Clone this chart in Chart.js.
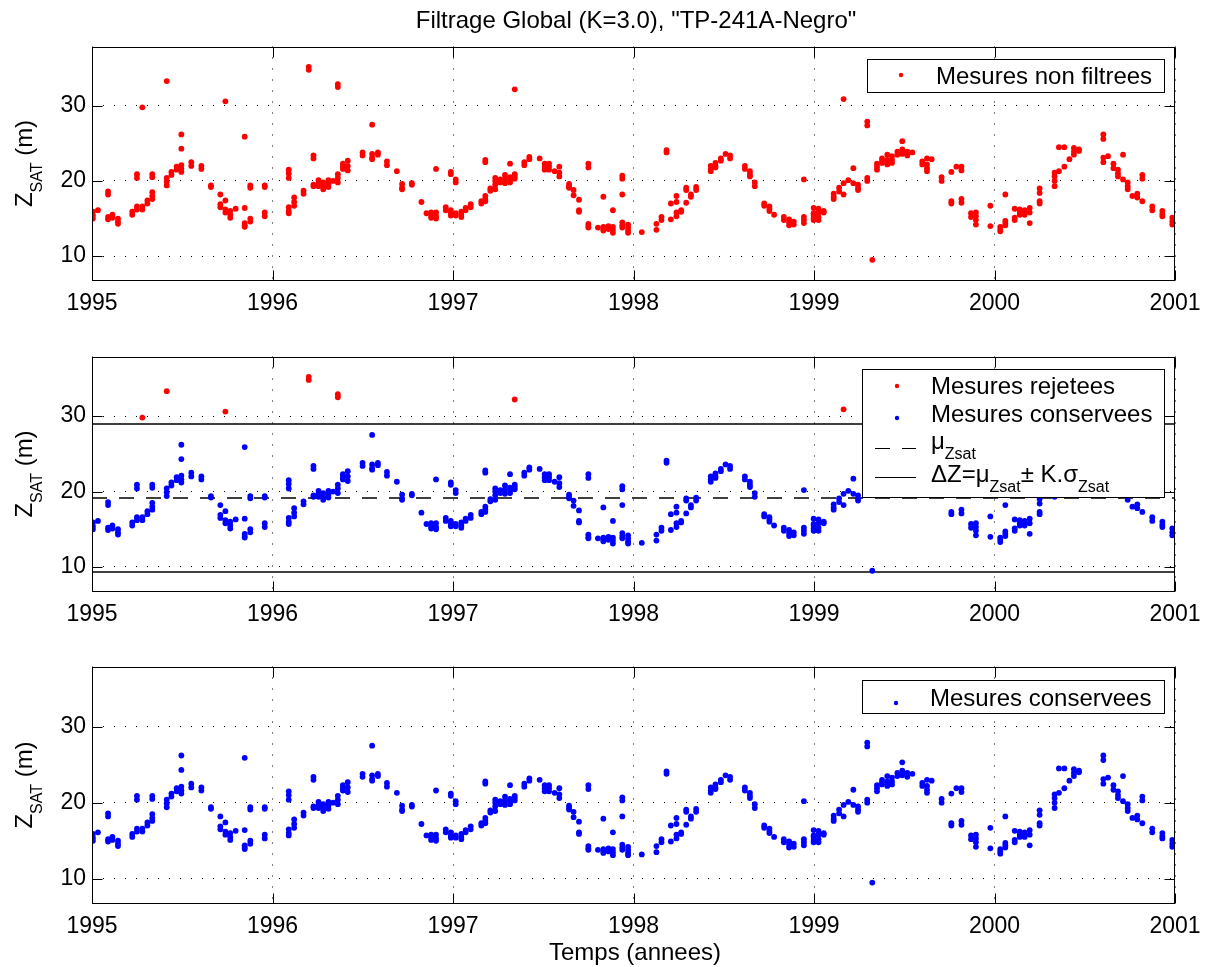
<!DOCTYPE html>
<html><head><meta charset="utf-8">
<script src="https://cdn.jsdelivr.net/npm/chart.js@4.4.0/dist/chart.umd.min.js"></script>
<style>
html,body{margin:0;padding:0;background:#fff;}
#wrap{position:relative;width:1213px;height:967px;background:#fff;}
canvas{position:absolute;left:0;top:0;}
</style></head><body>
<div id="wrap">
<canvas id="c1" width="1213" height="967"></canvas>
<canvas id="c2" width="1213" height="967"></canvas>
<canvas id="c3" width="1213" height="967"></canvas>
</div>
<script>
// ---------- DATA ----------
const yearTicks = [1995, 1996, 1997, 1998, 1999, 2000, 2001];
const zTicks = [10, 20, 30];
const Y_MIN = 6.75, Y_MAX = 37.9;
const K = 3.0, MU = 19.15, SIGMA = 3.27;

const passes1995 = [1995.005,1995.033,1995.089,1995.113,1995.144,1995.223,1995.249,1995.279,1995.307,1995.334,1995.414,1995.440,1995.469,1995.495,1995.550,1995.606,1995.659,1995.711,1995.739,1995.766,1995.796,1995.846,1995.877,1995.957];
const heights1995 = [[15.9,15.4,15.0],[16.1],[18.6,18.2,15.2,14.9],[15.5,15.1],[15.0,14.6,14.3],[15.9,15.5],[20.9,20.4,16.6,16.2],[29.8,16.6,16.2],[17.4,17.0],[20.9,20.5,18.5,18.0,17.6],[33.3,20.4,19.9,19.4],[21.2,20.8],[21.9,21.5],[26.2,24.3,22.1,21.6,21.2],[22.5,22.0],[22.0,21.6],[19.4,19.2],[18.2,16.9,16.5],[30.6,17.4,16.2,15.8],[16.0,15.5,15.1],[16.3],[25.9,16.4,14.4,14.1,13.9],[19.4,19.1,15.0,14.6],[19.4,19.2,15.8,15.3]];

const passes1996 = [1996.090,1996.120,1996.172,1996.201,1996.227,1996.255,1996.281,1996.310,1996.336,1996.362,1996.390,1996.417,1996.499,1996.552,1996.584,1996.634,1996.689,1996.718,1996.772,1996.825,1996.853,1996.879,1996.906,1996.960,1996.988];
const heights1996 = [[21.5,21.0,20.4,16.5,16.0,15.7],[17.8,17.2,16.7],[18.7,18.3],[35.2,34.8],[23.4,23.0,19.5,19.3],[20.1,19.7,19.3],[19.8,19.3,18.9],[20.1,19.6,19.2],[20.0],[32.9,32.5,20.9,20.4,19.8],[22.3,21.9,21.6],[22.7,22.0,21.4],[23.8,23.4],[27.5,23.6,23.1,22.9],[23.8,23.5],[22.6,22.1],[21.3],[19.6,19.1,18.9],[19.7,19.5],[17.2],[15.7],[15.8,15.4,15.1],[21.6,15.8,15.3,15.0],[16.5,16.1],[21.2,20.9,16.1,15.7,15.4]];

const passes1997 = [1997.015,1997.046,1997.070,1997.098,1997.157,1997.179,1997.207,1997.234,1997.262,1997.288,1997.316,1997.342,1997.395,1997.423,1997.480,1997.508,1997.532,1997.563,1997.589,1997.643,1997.668,1997.698,1997.750,1997.803,1997.833,1997.861,1997.886,1997.938,1997.970];
const heights1997 = [[20.2,19.8,15.7,15.4],[15.9,15.5,15.2],[16.4,16.1],[16.9,16.5],[17.3,17.0],[22.8,22.5,18.0,17.6,17.3],[19.0,18.7],[20.4,20.0,19.5,18.9],[20.2,19.8],[20.8,20.3,19.7],[22.3,20.5,20.1,19.8],[32.2,20.9,20.6,20.3],[22.5,22.1],[23.2,22.9],[23.0],[22.3,21.9,21.5],[22.3,21.9,21.5],[21.3],[21.9,21.1,20.6],[19.6,19.3,19.1],[18.8,18.1],[17.5,16.1,15.9],[22.3,21.8,14.3,14.0,13.8],[13.8],[17.9,13.9,13.6,13.4],[14.0,13.8,13.6],[16.1,13.9,13.5,13.1],[20.7,20.3,18.2,14.5,14.1,13.8],[14.2,13.8,13.4,13.1]];

const passes1998 = [1998.046,1998.127,1998.155,1998.183,1998.207,1998.238,1998.264,1998.292,1998.318,1998.347,1998.428,1998.454,1998.484,1998.510,1998.535,1998.617,1998.645,1998.672,1998.724,1998.753,1998.779,1998.833,1998.862,1998.888,1998.944,1998.998];
const heights1998 = [[13.2],[14.3,13.5],[15.2,14.8],[24.1,23.8],[17.0,14.9],[18.0,17.2,15.8,15.3],[16.1,15.9],[19.1,18.8,17.1],[18.2,17.9],[19.2,18.8],[22.0,21.6,21.3],[22.4,22.0,21.8],[23.0,22.7],[23.6],[23.4,23.0],[22.0,21.6],[21.3,20.9,20.6],[19.8,19.3],[17.0,16.7],[16.6,16.3,16.0],[15.5],[15.2,14.8],[14.9,14.5,14.1],[14.6,14.2],[20.2,15.2,14.8,14.4],[16.4,15.7,15.5,15.1,14.8]];

const passes1999 = [1999.025,1999.054,1999.109,1999.139,1999.164,1999.190,1999.218,1999.244,1999.295,1999.323,1999.349,1999.377,1999.406,1999.432,1999.462,1999.489,1999.517,1999.545,1999.600,1999.626,1999.652,1999.707,1999.761,1999.789,1999.817,1999.870,1999.897,1999.977];
const heights1999 = [[16.3,15.8,15.2,14.8],[16.0,15.8],[18.3,17.9,17.6],[19.1,18.6],[30.9,19.7,18.2],[20.1],[21.7,19.7],[19.5,19.1,18.8],[27.9,27.4,20.4,20.0],[9.5],[22.3,21.9,21.5],[23.0,22.7,22.4],[23.5,22.8,22.2],[23.3,22.8,22.4],[23.9,23.5],[25.3,24.2,23.9,23.6],[23.9,23.4],[23.8],[22.6,22.2],[23.0,22.2,21.7,21.3],[22.9],[20.5,20.0],[21.2,17.3,17.0],[21.9],[21.9,21.4,17.6,17.1],[15.7,15.2],[15.8,15.3,14.8,14.2],[16.7,14.0]];

const passes2000 = [2000.032,2000.060,2000.112,2000.140,2000.167,2000.195,2000.250,2000.333,2000.357,2000.387,2000.415,2000.440,2000.468,2000.603,2000.629,2000.659,2000.684,2000.712,2000.738,2000.764,2000.791,2000.819,2000.874,2000.930,2000.985];
const heights2000 = [[13.9,13.6,13.3],[18.2,14.7,14.4,14.1],[16.3,15.1,14.8],[16.2,15.8,15.5],[16.1,15.8,15.5],[16.4,15.8,14.4],[19.0,18.4,17.3,17.0],[21.1,20.6,20.0,19.3],[24.5,21.3],[24.5,21.9],[22.9],[24.4,23.9,23.5],[24.2,24.0],[26.2,25.6,23.1,22.5],[23.3],[22.3,21.7],[21.5,21.0,20.6],[23.5,20.2],[19.8,19.3,18.9],[18.0],[18.3,17.8],[20.8,20.3,17.3],[16.6,16.1],[16.0,15.6,15.3],[15.1,14.6,14.2]];

// ---------- BUILD POINTS ----------
const allPasses = [passes1995, passes1996, passes1997, passes1998, passes1999, passes2000];
const allHeights = [heights1995, heights1996, heights1997, heights1998, heights1999, heights2000];
const allPoints = [];
allPasses.forEach((ps, k) => ps.forEach((t, i) => allHeights[k][i].forEach(z => allPoints.push({x: t, y: z}))));
const upper = MU + K * SIGMA, lower = MU - K * SIGMA;
const rejected = allPoints.filter(p => p.y > upper || p.y < lower);
const kept = allPoints.filter(p => p.y <= upper && p.y >= lower);

// ---------- STYLE ----------
const FAMILY = "'Liberation Sans', Arial, Helvetica, sans-serif";
const MAIN = 24, SUB = 16, SUB_SHIFT = 10;
Chart.defaults.font.family = FAMILY;
Chart.defaults.color = '#000';
const RED = '#ff0000', BLUE = '#0000ff';
const LEFT = 92, RIGHT = 1175, TICK = 10;

function drawRich(ctx, parts, x, y) {
  for (const p of parts) {
    ctx.font = (p.sub ? SUB : MAIN) + 'px ' + FAMILY;
    ctx.fillText(p.t, x, y + (p.sub ? SUB_SHIFT : 0));
    x += ctx.measureText(p.t).width;
  }
  return x;
}
function richWidth(ctx, parts) {
  let w = 0;
  for (const p of parts) { ctx.font = (p.sub ? SUB : MAIN) + 'px ' + FAMILY; w += ctx.measureText(p.t).width; }
  return w;
}

const framePlugin = {
  id: 'frame',
  afterDatasetsDraw(chart) {
    const {ctx, chartArea: a, scales: {x, y}} = chart;
    ctx.save();
    ctx.strokeStyle = '#000'; ctx.lineWidth = 1; ctx.setLineDash([]);
    const L = Math.round(a.left) + 0.5, R = Math.round(a.right) - 0.5;
    const T = Math.round(a.top) + 0.5, B = Math.round(a.bottom) - 0.5;
    ctx.strokeRect(L, T, R - L, B - T);
    ctx.beginPath();
    yearTicks.forEach(v => {
      const px = Math.round(x.getPixelForValue(v)) + 0.5;
      ctx.moveTo(px, B); ctx.lineTo(px, B - TICK);
      ctx.moveTo(px, T); ctx.lineTo(px, T + TICK);
    });
    zTicks.forEach(v => {
      const py = Math.round(y.getPixelForValue(v)) + 0.5;
      ctx.moveTo(L, py); ctx.lineTo(L + TICK, py);
      ctx.moveTo(R, py); ctx.lineTo(R - TICK, py);
    });
    ctx.stroke();
    ctx.restore();
  }
};

function textPlugin(opts) {
  return {
    id: 'texts',
    afterDraw(chart) {
      const {ctx, chartArea: a} = chart;
      ctx.save();
      ctx.fillStyle = '#000'; ctx.textBaseline = 'alphabetic'; ctx.textAlign = 'left';
      const ylab = [{t: 'Z'}, {t: 'SAT', sub: true}, {t: ' (m)'}];
      ctx.save();
      ctx.translate(32, (a.top + a.bottom) / 2);
      ctx.rotate(-Math.PI / 2);
      drawRich(ctx, ylab, -richWidth(ctx, ylab) / 2, 0);
      ctx.restore();
      if (opts.title) {
        ctx.font = MAIN + 'px ' + FAMILY; ctx.textAlign = 'center';
        ctx.fillText(opts.title, 636, 28);
        ctx.textAlign = 'left';
      }
      if (opts.xlabel) {
        ctx.font = MAIN + 'px ' + FAMILY; ctx.textAlign = 'center';
        ctx.fillText(opts.xlabel, 635, 960);
        ctx.textAlign = 'left';
      }
      const lg = opts.legend;
      if (lg) {
        ctx.fillStyle = '#fff';
        ctx.fillRect(lg.x0, lg.y0, lg.x1 - lg.x0, lg.y1 - lg.y0);
        ctx.strokeStyle = '#000'; ctx.lineWidth = 1;
        ctx.strokeRect(lg.x0 + 0.5, lg.y0 + 0.5, lg.x1 - lg.x0, lg.y1 - lg.y0);
        lg.items.forEach(it => {
          if (it.kind === 'dot') {
            ctx.fillStyle = it.color;
            ctx.beginPath(); ctx.arc(it.mx, it.my, 2.2, 0, Math.PI * 2); ctx.fill();
          } else {
            ctx.strokeStyle = '#000'; ctx.lineWidth = 1;
            ctx.setLineDash(it.kind === 'dash' ? [15, 12] : []);
            ctx.beginPath(); ctx.moveTo(875, it.my + 0.5); ctx.lineTo(916, it.my + 0.5); ctx.stroke();
            ctx.setLineDash([]);
          }
          ctx.fillStyle = '#000';
          drawRich(ctx, it.parts, it.tx, it.ty);
        });
      }
      ctx.restore();
    }
  };
}

function makeChart(id, top, bottom, datasets, opts) {
  return new Chart(document.getElementById(id), {
    type: 'scatter',
    data: {datasets},
    options: {
      responsive: false, animation: false, events: [],
      layout: {padding: {top: top, right: 1213 - RIGHT, bottom: 0, left: 0}},
      plugins: {legend: {display: false}, tooltip: {enabled: false}, title: {display: false}},
      scales: {
        x: {
          type: 'linear', min: 1995, max: 2001,
          afterBuildTicks: s => { s.ticks = yearTicks.map(v => ({value: v})); },
          afterFit: s => { s.height = 967 - bottom; },
          grid: {color: '#000', lineWidth: 1, drawTicks: false},
          border: {display: false, dash: [1, 10]},
          ticks: {padding: 9, color: '#000', font: {size: 23}, maxRotation: 0, autoSkip: false, callback: v => String(v)}
        },
        y: {
          type: 'linear', min: Y_MIN, max: Y_MAX,
          afterBuildTicks: s => { s.ticks = zTicks.map(v => ({value: v})); },
          afterFit: s => { s.width = LEFT; },
          grid: {color: '#000', lineWidth: 1, drawTicks: false},
          border: {display: false, dash: [1, 10]},
          ticks: {padding: 6, color: '#000', font: {size: 23}, callback: v => String(v)}
        }
      }
    },
    plugins: [framePlugin, textPlugin(opts)]
  });
}

const dotDs = (label, pts, color) => ({
  label, data: pts, backgroundColor: color, borderColor: color, borderWidth: 0,
  pointRadius: 2.9, pointHoverRadius: 2.9, showLine: false
});
const lineDs = (label, yv, dash) => ({
  label, type: 'line', data: [{x: 1995, y: yv}, {x: 2001, y: yv}],
  borderColor: '#000', borderWidth: 1.4, borderDash: dash, pointRadius: 0, fill: false, showLine: true
});

makeChart('c1', 46.5, 280.5, [dotDs('Mesures non filtrees', allPoints, RED)], {
  title: 'Filtrage Global (K=3.0), "TP-241A-Negro"',
  legend: {x0: 867, y0: 59, x1: 1164, y1: 92, items: [
    {kind: 'dot', color: RED, mx: 901, my: 75, tx: 936, ty: 83.5, parts: [{t: 'Mesures non filtrees'}]}
  ]}
});

makeChart('c2', 356.5, 591.5, [
  dotDs('Mesures rejetees', rejected, RED),
  dotDs('Mesures conservees', kept, BLUE),
  lineDs('mu', MU, [15, 12]),
  lineDs('up', upper, []),
  lineDs('low', lower, [])
], {
  legend: {x0: 862, y0: 369, x1: 1164, y1: 497, items: [
    {kind: 'dot', color: RED, mx: 897, my: 386, tx: 931, ty: 394, parts: [{t: 'Mesures rejetees'}]},
    {kind: 'dot', color: BLUE, mx: 897, my: 418, tx: 931, ty: 422, parts: [{t: 'Mesures conservees'}]},
    {kind: 'dash', my: 448, tx: 931, ty: 449, parts: [{t: 'μ'}, {t: 'Zsat', sub: true}]},
    {kind: 'line', my: 477, tx: 931, ty: 481.5, parts: [{t: 'ΔZ=μ'}, {t: 'Zsat', sub: true}, {t: '± K.σ'}, {t: 'Zsat', sub: true}]}
  ]}
});

makeChart('c3', 666.5, 903.5, [dotDs('Mesures conservees', kept, BLUE)], {
  xlabel: 'Temps (annees)',
  legend: {x0: 862, y0: 680, x1: 1164, y1: 713, items: [
    {kind: 'dot', color: BLUE, mx: 896, my: 703, tx: 930, ty: 706, parts: [{t: 'Mesures conservees'}]}
  ]}
});
</script>
</body></html>
